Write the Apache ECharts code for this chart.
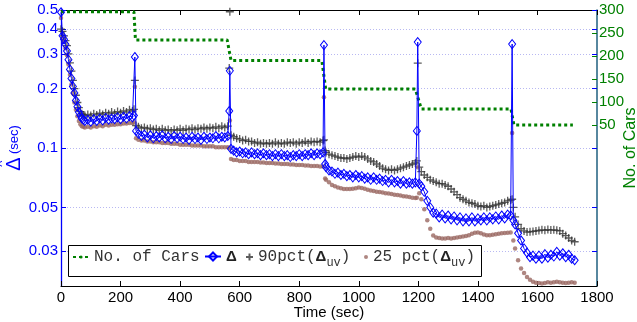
<!DOCTYPE html>
<html>
<head>
<meta charset="utf-8">
<script src="https://cdn.jsdelivr.net/npm/echarts@6/dist/echarts.min.js"></script>
<style>
  html, body { margin: 0; padding: 0; background: #fff; }
  #chart { width: 637px; height: 322px; }
</style>
</head>
<body>
<div id="chart"></div>
<script>
// delay per time step

var times = [0,5,10,15,20,25,30,35,40,45,50,55,60,65,70,75,80,90,100,110,120,130,140,150,160,170,180,190,200,210,220,230,240,
  245,248,252,
  260,270,280,290,300,310,320,330,340,350,360,370,380,390,400,410,420,430,440,450,460,470,480,490,500,510,520,530,540,550,560,
  565,567,571,
  580,590,600,610,620,630,640,650,660,670,680,690,700,710,720,730,740,750,760,770,780,790,800,810,820,830,840,850,860,870,880,
  883,887,
  890,900,910,920,930,940,950,960,970,980,990,1000,1010,1020,1030,1040,1050,1060,1070,1080,1090,1100,1110,1120,1130,1140,1150,1160,1170,1180,1190,
  1195,1198,1203,
  1210,1220,1230,1240,1250,1260,1270,1280,1290,1300,1310,1320,1330,1340,1350,1360,1370,1380,1390,1400,1410,1420,1430,1440,1450,1460,1470,1480,1490,1500,1510,
  1515,1519,
  1525,1535,1545,1555,1565,1575,1585,1595,1605,1615,1625,1635,1645,1655,1665,1675,1685,1695,1705,1715,1725];

var delta = [0.487,0.37,0.355,0.335,0.31,0.28,0.25,0.225,0.205,0.19,0.174,0.162,0.152,0.146,0.141,0.139,0.137,
  0.139,0.136,0.140,0.137,0.141,0.138,0.142,0.139,0.141,0.140,0.143,0.140,0.144,0.141,0.145,0.143,
  0.146,0.289,0.122,
  0.118,0.115,0.117,0.113,0.116,0.112,0.115,0.113,0.116,0.112,0.114,0.111,0.115,0.112,0.114,0.111,0.113,0.110,0.114,0.111,0.113,0.110,0.114,0.111,0.113,0.112,0.115,0.112,0.114,0.113,0.115,
  0.154,0.246,0.099,
  0.097,0.095,0.096,0.094,0.095,0.093,0.095,0.093,0.094,0.092,0.094,0.092,0.093,0.091,0.093,0.091,0.093,0.091,0.092,0.090,0.092,0.091,0.093,0.091,0.093,0.092,0.094,0.092,0.094,0.093,0.095,
  0.332,0.083,
  0.080,0.077,0.076,0.074,0.075,0.073,0.074,0.072,0.073,0.071,0.073,0.071,0.072,0.070,0.071,0.069,0.071,0.069,0.070,0.068,0.069,0.067,0.069,0.067,0.068,0.066,0.068,0.066,0.067,0.066,0.067,
  0.122,0.344,0.066,
  0.064,0.060,0.054,0.050,0.047,0.0465,0.0445,0.046,0.044,0.0455,0.0435,0.045,0.043,0.0445,0.0425,0.044,0.0425,0.0445,0.0425,0.044,0.043,0.0445,0.043,0.0445,0.0435,0.045,0.0435,0.0455,0.044,0.046,0.0455,
  0.336,0.043,
  0.041,0.037,0.034,0.031,0.0295,0.028,0.0285,0.0275,0.0285,0.0275,0.029,0.0278,0.0288,0.0282,0.0298,0.0285,0.0293,0.028,0.0288,0.0275,0.027];

var pct90 = [0.40,0.39,0.37,0.35,0.33,0.30,0.27,0.245,0.22,0.20,0.185,0.17,0.16,0.153,0.149,0.147,0.146,
  0.148,0.146,0.149,0.147,0.150,0.148,0.151,0.149,0.152,0.150,0.153,0.151,0.154,0.152,0.156,0.154,
  0.157,0.22,0.13,
  0.128,0.126,0.127,0.125,0.126,0.124,0.125,0.123,0.125,0.123,0.124,0.122,0.124,0.123,0.125,0.123,0.125,0.124,0.126,0.124,0.126,0.125,0.127,0.125,0.127,0.126,0.128,0.126,0.129,0.127,0.129,
  0.254,0.49,0.116,
  0.114,0.112,0.111,0.109,0.110,0.108,0.108,0.106,0.107,0.105,0.106,0.105,0.106,0.105,0.107,0.105,0.106,0.105,0.107,0.106,0.107,0.105,0.107,0.106,0.108,0.106,0.108,0.107,0.108,0.107,0.109,
  0.11,0.097,
  0.095,0.093,0.092,0.091,0.090,0.089,0.089,0.088,0.089,0.090,0.091,0.090,0.091,0.090,0.088,0.086,0.085,0.083,0.081,0.079,0.078,0.077,0.078,0.077,0.078,0.079,0.080,0.081,0.082,0.083,0.084,
  0.086,0.269,0.080,
  0.076,0.073,0.071,0.069,0.068,0.067,0.066,0.066,0.065,0.064,0.062,0.060,0.058,0.056,0.055,0.054,0.053,0.0525,0.052,0.051,0.0505,0.051,0.050,0.0505,0.051,0.0515,0.052,0.0525,0.053,0.054,0.0545,
  0.055,0.050,
  0.0448,0.041,0.039,0.038,0.0375,0.0376,0.0378,0.038,0.0382,0.0385,0.0383,0.0386,0.0384,0.0385,0.0383,0.038,0.0368,0.036,0.035,0.034,0.0335];

var pct25 = [0.455,0.36,0.345,0.32,0.295,0.265,0.235,0.21,0.19,0.17,0.156,0.145,0.137,0.132,0.129,0.128,0.127,
  0.128,0.127,0.129,0.128,0.130,0.129,0.131,0.130,0.131,0.131,0.132,0.132,0.133,0.133,0.134,0.134,
  0.135,0.204,0.112,
  0.110,0.109,0.109,0.108,0.108,0.107,0.107,0.107,0.106,0.106,0.106,0.105,0.105,0.105,0.104,0.104,0.104,0.104,0.103,0.103,0.103,0.103,0.102,0.102,0.102,0.102,0.101,0.101,0.101,0.101,0.101,
  0.10,0.138,0.088,
  0.087,0.087,0.086,0.086,0.086,0.085,0.085,0.085,0.085,0.0845,0.0845,0.084,0.084,0.084,0.0835,0.0835,0.083,0.083,0.083,0.0825,0.0825,0.082,0.082,0.082,0.0815,0.0815,0.081,0.081,0.081,0.0805,0.0805,
  0.181,0.07,
  0.069,0.067,0.065,0.064,0.063,0.0625,0.062,0.062,0.062,0.0622,0.0625,0.063,0.0628,0.0622,0.0615,0.061,0.0605,0.060,0.0598,0.0595,0.059,0.0588,0.0585,0.058,0.0578,0.0575,0.057,0.0568,0.0565,0.056,0.0558,
  0.056,0.08,0.059,
  0.055,0.049,0.043,0.039,0.036,0.0352,0.035,0.0348,0.0348,0.035,0.0348,0.035,0.0352,0.0354,0.0356,0.0358,0.0362,0.0368,0.0372,0.0373,0.037,0.0365,0.0362,0.0362,0.0364,0.0366,0.0368,0.037,0.0371,0.0372,0.0373,
  0.119,0.034,
  0.031,0.027,0.0245,0.0233,0.0222,0.0215,0.021,0.0208,0.0207,0.0206,0.0207,0.0209,0.0208,0.0209,0.021,0.0209,0.0208,0.0207,0.0208,0.0209,0.0208];

// number of cars (right axis)
var carTimes = [0,245,250,558,571,876,889,1190,1210,1511,1521,1719];
var cars = [296,296,235,235,190,190,128,128,85,85,50,50];

var leftTicks = [0.03,0.05,0.1,0.2,0.3,0.4,0.5];
var rightTicks = [50,100,150,200,250,300];

function pairs(xs, ys) {
  return xs.map(function (x, i) { return [x, ys[i]]; });
}

var chart = echarts.init(document.getElementById('chart'));

var mono = 'Liberation Mono';
var sans = 'Liberation Sans';
var legendRich = {
  d: { fontFamily: sans, fontWeight: 'bold', fontSize: 15, color: '#222' },
  s: { fontFamily: mono, fontSize: 12, color: '#333', padding: [12, 0, 0, 0] }
};
var legendText = { fontFamily: mono, fontSize: 16, color: '#333', rich: legendRich };

var option = {
  animation: false,
  grid: { left: 61, right: 40, top: 10, bottom: 36, containLabel: false, outerBoundsMode: 'none' },
  xAxis: [
    {
      type: 'value', min: 0, max: 1800, interval: 200,
      name: 'Time (sec)', nameLocation: 'middle', nameGap: 19, nameMoveOverlap: false,
      nameTextStyle: { fontFamily: sans, fontSize: 15, color: '#000' },
      axisLine: { onZero: false, lineStyle: { color: '#000', width: 1 } },
      axisTick: { inside: true, length: 5, lineStyle: { color: '#000' } },
      axisLabel: { fontFamily: sans, fontSize: 15, color: '#000', margin: 4,
        formatter: function (v) { return String(v); } },
      splitLine: { show: false }
    },
    {
      type: 'value', min: 0, max: 1800, interval: 200, position: 'top',
      axisLine: { onZero: false, lineStyle: { color: '#000', width: 1 } },
      axisTick: { inside: true, length: 5, lineStyle: { color: '#000' } },
      axisLabel: { show: false },
      splitLine: { show: false }
    }
  ],
  yAxis: [
    {
      type: 'log', logBase: 10, min: 0.02, max: 0.5,
      name: '{h|^}\n{d|Δ} {s|(sec)}', nameLocation: 'middle', nameRotate: 90, nameGap: 38,
      nameMoveOverlap: false,
      nameTextStyle: {
        color: '#0000ff',
        rich: {
          h: { fontFamily: sans, fontSize: 13, color: '#0000ff', lineHeight: 6, align: 'left', padding: [0, 0, 0, 4] },
          d: { fontFamily: sans, fontSize: 20, color: '#0000ff', lineHeight: 18 },
          s: { fontFamily: sans, fontSize: 13, color: '#0000ff', lineHeight: 18 }
        }
      },
      axisLine: { show: true, onZero: false, lineStyle: { color: '#0000ff', width: 1.3 } },
      axisTick: { inside: true, length: 5, customValues: leftTicks, lineStyle: { color: '#0000ff' } },
      axisLabel: {
        fontFamily: sans, fontSize: 15, color: '#0000ff', margin: 3,
        customValues: leftTicks,
        formatter: function (v) { return String(+v.toFixed(2)); }
      },
      splitLine: { show: true, lineStyle: { color: '#b8b8f2', width: 1, type: [1, 2] } }
    },
    {
      type: 'value', min: -300, max: 300, interval: 50, position: 'right',
      name: 'No. of Cars', nameLocation: 'middle', nameRotate: 90, nameGap: 26,
      nameMoveOverlap: false,
      nameTextStyle: { fontFamily: sans, fontSize: 16, color: '#008000' },
      axisLine: { show: true, onZero: false, lineStyle: { color: '#1f5f7f', width: 1.5 } },
      axisTick: { inside: true, length: 5, customValues: rightTicks, lineStyle: { color: '#008000' } },
      axisLabel: { fontFamily: sans, fontSize: 15, color: '#008000', margin: 2, customValues: rightTicks },
      splitLine: { show: false }
    },
    {
      type: 'log', logBase: 10, min: 0.02, max: 0.5, position: 'right',
      axisLine: { show: false, onZero: false },
      axisTick: { inside: true, length: 5, customValues: leftTicks, lineStyle: { color: '#0000ff' } },
      axisLabel: { show: false },
      splitLine: { show: false }
    }
  ],
  legend: [
    { data: ['No. of Cars'], left: 72, top: 249, padding: 0, itemWidth: 16, itemHeight: 4, itemGap: 5,
      textStyle: legendText, z: 6 },
    { data: ['Δ'], left: 204, top: 249, padding: 0, itemWidth: 16, itemHeight: 10,
      formatter: '{d|Δ}', textStyle: legendText, z: 6 },
    { data: ['90pct'], left: 245, top: 249, padding: 0, itemWidth: 7, itemHeight: 7,
      formatter: '90pct({d|Δ}{s|uv})', textStyle: legendText, z: 6 },
    { data: ['25pct'], left: 364, top: 249, padding: 0, itemWidth: 4, itemHeight: 4,
      formatter: '25 pct({d|Δ}{s|uv})', textStyle: legendText, z: 6 }
  ],
  graphic: [
    { type: 'rect', z: 5, shape: { x: 68.5, y: 245.5, width: 413, height: 31 },
      style: { fill: '#fff', stroke: '#000', lineWidth: 1 } }
  ],
  series: [
    {
      name: 'No. of Cars', type: 'line', xAxisIndex: 0, yAxisIndex: 1,
      data: pairs(carTimes, cars), symbol: 'none', z: 3,
      lineStyle: { color: '#008000', width: 3, type: [3, 3] },
      itemStyle: { color: '#008000' }
    },
    {
      name: '90pct', type: 'scatter', xAxisIndex: 0, yAxisIndex: 0,
      data: pairs(times, pct90), z: 2,
      symbol: 'path://M0,5L10,5M5,0L5,10', symbolSize: 8,
      itemStyle: { color: 'rgba(0,0,0,0)', borderColor: '#333333', borderWidth: 1.3 }
    },
    {
      name: '25pct', type: 'scatter', xAxisIndex: 0, yAxisIndex: 0,
      data: pairs(times, pct25), z: 2,
      symbol: 'circle', symbolSize: 4.5,
      itemStyle: { color: '#9a6862' }
    },
    {
      name: 'Δ', type: 'line', xAxisIndex: 0, yAxisIndex: 0,
      data: pairs(times, delta), z: 4,
      symbol: 'diamond', symbolSize: [7, 9], showAllSymbol: true,
      lineStyle: { color: '#0000ff', width: 1 },
      itemStyle: { color: 'rgba(255,255,255,0)', borderColor: '#0000ff', borderWidth: 1 }
    }
  ]
};

chart.setOption(option);
</script>
</body>
</html>
